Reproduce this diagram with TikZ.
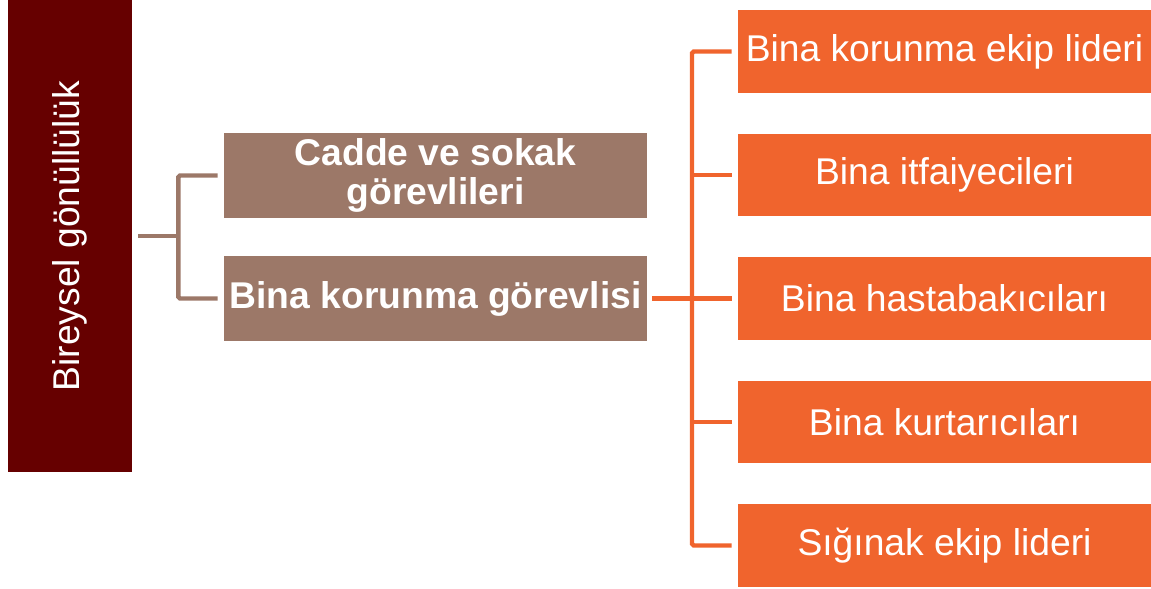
\documentclass[tikz,border=0pt]{standalone}
\usepackage{fontspec}
\setmainfont{Liberation Sans}
\usepackage{tikz}
\definecolor{koyu}{HTML}{660000}
\definecolor{kahve}{HTML}{9C7868}
\definecolor{turuncu}{HTML}{F0642D}
\tikzset{
  kutu/.style={draw=none, text=white, align=center, inner sep=0pt,
    font=\fontsize{21.2}{19}\selectfont},
  anakutu/.style={kutu, fill=koyu, minimum width=2.5cm, minimum height=9.45cm},
  orta/.style={kutu, fill=kahve, minimum width=8.46cm, minimum height=1.7cm,
    font=\fontsize{21.2}{19}\selectfont\bfseries},
  sag/.style={kutu, fill=turuncu, minimum width=8.26cm, minimum height=1.66cm},
  kbag/.style={kahve, line width=2.5pt, rounded corners=1pt},
  tbag/.style={turuncu, line width=2.5pt, rounded corners=1pt}
}

\begin{document}
\begin{tikzpicture}[x=0.02cm,y=-0.02cm]
  \useasboundingbox (0,0) rectangle (1151,588);
  % ana kutu
  \node[anakutu] (ana) at (70,236) {\rotatebox{90}{Bireysel gönüllülük}};
  % orta kutular
  \node[orta] (cadde) at (435.5,175.5) {Cadde ve sokak\\[3pt]görevlileri};
  \node[orta] (bina) at (435.5,298.5) {Bina korunma görevlisi};
  % sag kutular
  \foreach \i/\y/\t in {1/51.5/Bina korunma ekip lideri,
                        2/175/Bina itfaiyecileri,
                        3/298.5/Bina hastabakıcıları,
                        4/422/Bina kurtarıcıları,
                        5/545.5/Sığınak ekip lideri}
    \node[sag] (r\i) at (944.5,\y) {\t};
  % baglantilar
  \draw[kbag] ([xshift=0.11cm]ana.east) -- ++(40,0) coordinate (kb);
  \draw[kbag] ([xshift=-0.12cm]cadde.west) -| (kb) |- ([xshift=-0.12cm]bina.west);
  \coordinate (tb) at (692,298.5);
  \draw[tbag] ([xshift=0.1cm]bina.east) -- ([xshift=-0.12cm]r3.west);
  \draw[tbag] ([xshift=-0.12cm]r1.west) -| (tb) |- ([xshift=-0.12cm]r5.west);
  \foreach \i in {2,4}
    \draw[tbag] (tb |- r\i) -- ([xshift=-0.12cm]r\i.west);
\end{tikzpicture}
\end{document}
